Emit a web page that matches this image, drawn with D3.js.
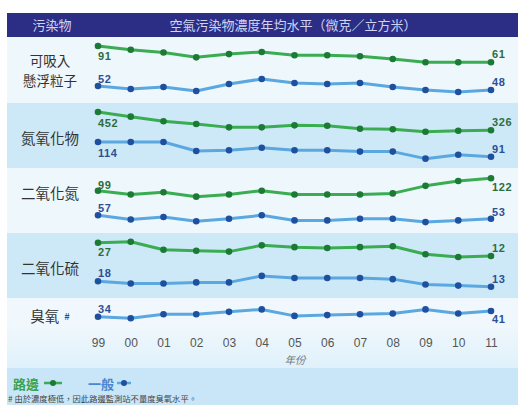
<!DOCTYPE html>
<html><head><meta charset="utf-8">
<script src="https://cdn.jsdelivr.net/npm/d3@7"></script>
<style>
body{margin:0;background:#fff;}
svg{display:block;}
</style></head>
<body>
<svg id="c" width="518" height="405"></svg>
<script>
// ---- data ----
const years = ["99","00","01","02","03","04","05","06","07","08","09","10","11"];
const pollutants = ["可吸入\n懸浮粒子","氮氧化物","二氧化氮","二氧化硫","臭氧"];
const rspRoadside = [91, 84, 79, 70, 76, 80, 74, 74, 72, 67, 61, 61, 61];
const rspGeneral  = [52, 49, 51, 47, 54, 59, 55, 54, 55, 51, 48, 46, 48];
const noxRoadside = [452, 420, 388, 369, 346, 346, 360, 357, 337, 333, 316, 323, 326];
const noxGeneral  = [114, 114, 114, 100, 101, 105, 101, 101, 99, 99, 88, 94, 91];
const no2Roadside = [99, 92, 96, 88, 92, 99, 92, 92, 92, 94, 108, 117, 122];
const no2General  = [57, 52, 55, 50, 53, 57, 51, 51, 53, 53, 49, 51, 53];
const so2Roadside = [27, 28, 19, 18, 17, 24, 22, 21, 22, 23, 14, 11, 12];
const so2General  = [18, 16, 16, 17, 17, 23, 21, 21, 21, 20, 15, 14, 13];
const o3General   = [34, 32, 37, 37, 40, 43, 35, 36, 37, 38, 43, 38, 41];
const headerLeft = "污染物";
const headerTitle = "空氣污染物濃度年均水平（微克／立方米）";
const axisTitle = "年份";
const legendRoadside = "路邊";
const legendGeneral = "一般";
const footnote = "# 由於濃度極低，因此路邊監測站不量度臭氧水平。";

// ---- layout ----
const svg = d3.select("#c");
const W = 518, L = 7;
const GREEN_LINE = "#3aac52", GREEN_DOT = "#1b7a34", GREEN_TXT = "#2d6d3c";
const BLUE_LINE = "#5aa8df", BLUE_DOT = "#1f4f9f", BLUE_TXT = "#2e4f96";
const LIGHT = "#eef7fc", BLUE_BAND = "#cde9f8";
const CJK = "'Noto Sans CJK TC','Noto Sans CJK SC',sans-serif";
const NUM = "'Liberation Sans',Arial,sans-serif";

const bands = [
  {y0:37, y1:103, fill:LIGHT},
  {y0:103, y1:168, fill:BLUE_BAND},
  {y0:168, y1:233, fill:LIGHT},
  {y0:233, y1:298, fill:BLUE_BAND},
  {y0:298, y1:328, fill:"#f0f8fd"},
  {y0:328, y1:368, fill:"#eef7fc"},
  {y0:368, y1:405, fill:"#c8e6f8"}
];
const defs = svg.append("defs");
const grad = defs.append("linearGradient").attr("id","axg").attr("x1",0).attr("x2",0).attr("y1",0).attr("y2",1);
grad.append("stop").attr("offset","0").attr("stop-color","#eef7fc");
grad.append("stop").attr("offset","1").attr("stop-color","#e0f1fb");
svg.selectAll("rect.band").data(bands).join("rect").attr("class","band")
  .attr("x",L).attr("width",W-L).attr("y",d=>d.y0).attr("height",d=>d.y1-d.y0)
  .attr("fill",(d,i)=> i===5 ? "url(#axg)" : d.fill);

// header
svg.append("rect").attr("x",L).attr("y",13).attr("width",W-L).attr("height",24).attr("fill","#2c2e86");
svg.append("text").attr("x",52).attr("y",29.5).attr("text-anchor","middle")
  .attr("font-family",CJK).attr("font-size",13).attr("fill","#cfd5f2").text(headerLeft);
svg.append("text").attr("x",293).attr("y",29.5).attr("text-anchor","middle")
  .attr("font-family",CJK).attr("font-size",13).attr("fill","#cfd5f2").text(headerTitle);

// x scale
const x = d3.scalePoint().domain(years).range([98, 491]);

// series spec (value arrays + per-series vertical mapping inside its row)
const series = [
  {vals:rspRoadside, y0:46,    k:0.54,  type:"road", fDy:10, lDy:-8},
  {vals:rspGeneral,  y0:86,    k:1.0,   type:"gen",  fDy:-7, lDy:-8},
  {vals:noxRoadside, y0:112,   k:0.145, type:"road", fDy:11, lDy:-8},
  {vals:noxGeneral,  y0:142,   k:0.64,  type:"gen",  fDy:11, lDy:-8},
  {vals:no2Roadside, y0:190.7, k:0.54,  type:"road", fDy:-6, lDy:9},
  {vals:no2General,  y0:215.3, k:0.85,  type:"gen",  fDy:-7, lDy:-7},
  {vals:so2Roadside, y0:242.7, k:0.89,  type:"road", fDy:9,  lDy:-8.5},
  {vals:so2General,  y0:281.3, k:1.08,  type:"gen",  fDy:-8, lDy:-8},
  {vals:o3General,   y0:316.7, k:0.81,  type:"gen",  fDy:-8, lDy:8}
];

series.forEach(s=>{
  const v0 = s.vals[0];
  const y = d3.scaleLinear().domain([v0, v0+100]).range([s.y0, s.y0 - 100*s.k]);
  const road = s.type==="road";
  const g = svg.append("g");
  const line = d3.line().x((d,i)=>x(years[i])).y(d=>y(d)).curve(d3.curveLinear);
  g.append("path").datum(s.vals).attr("d",line).attr("fill","none")
    .attr("stroke", road?GREEN_LINE:BLUE_LINE).attr("stroke-width",3).attr("stroke-linejoin","round");
  g.selectAll("circle").data(s.vals).join("circle")
    .attr("cx",(d,i)=>x(years[i])).attr("cy",d=>y(d)).attr("r",3.3)
    .attr("fill", road?GREEN_DOT:BLUE_DOT);
  const n = s.vals.length-1;
  [[0,s.fDy],[n,s.lDy]].forEach(([i,dy])=>{
    g.append("text").attr("x",x(years[i])+ (i===0?0:1)).attr("y",y(s.vals[i])+dy)
      .attr("dominant-baseline","central").attr("font-family",NUM).attr("font-weight","bold")
      .attr("font-size",11).attr("letter-spacing",0.6)
      .attr("fill", road?GREEN_TXT:BLUE_TXT).text(s.vals[i]);
  });
});

// row labels
const rowLabelY = [[60,80],[137],[192],[267],[315]];
pollutants.forEach((p,i)=>{
  const lines = p.split("\n");
  lines.forEach((ln,j)=>{
    const t = svg.append("text").attr("x",50).attr("y",rowLabelY[i][j])
      .attr("text-anchor","middle").attr("dominant-baseline","central")
      .attr("font-family",CJK).attr("font-size",lines.length>1?13.5:14.5).attr("fill","#333").text(ln);
    if(i===4){ t.append("tspan").attr("font-size",10).attr("dx",5).text("#"); }
  });
});

// x axis
const xAxis = d3.axisBottom(x).tickSize(0).tickPadding(0);
const ax = svg.append("g").attr("transform","translate(0,337)").call(xAxis);
ax.select(".domain").remove();
ax.selectAll("text").attr("font-family",NUM).attr("font-size",12).attr("fill","#555").attr("dy","0.8em");
svg.append("text").attr("x",295).attr("y",359).attr("text-anchor","middle").attr("dominant-baseline","central")
  .attr("font-family",CJK).attr("font-size",10.5).attr("font-style","italic").attr("fill","#777").text(axisTitle);

// legend
svg.append("text").attr("x",13).attr("y",383).attr("dominant-baseline","central")
  .attr("font-family",CJK).attr("font-size",13).attr("font-weight","bold").attr("fill","#3aa24e").text(legendRoadside);
svg.append("line").attr("x1",44).attr("x2",62).attr("y1",383).attr("y2",383).attr("stroke",GREEN_LINE).attr("stroke-width",2.5);
svg.append("circle").attr("cx",53).attr("cy",383).attr("r",3).attr("fill",GREEN_DOT);
svg.append("text").attr("x",88).attr("y",383).attr("dominant-baseline","central")
  .attr("font-family",CJK).attr("font-size",13).attr("font-weight","bold").attr("fill","#4a86cf").text(legendGeneral);
svg.append("line").attr("x1",117).attr("x2",131).attr("y1",383).attr("y2",383).attr("stroke",BLUE_LINE).attr("stroke-width",2.5);
svg.append("circle").attr("cx",124).attr("cy",383).attr("r",3).attr("fill",BLUE_DOT);
svg.append("text").attr("x",8).attr("y",397.5).attr("dominant-baseline","central")
  .attr("font-family",CJK).attr("font-size",8.3).attr("fill","#444").text(footnote);
</script>
</body></html>
